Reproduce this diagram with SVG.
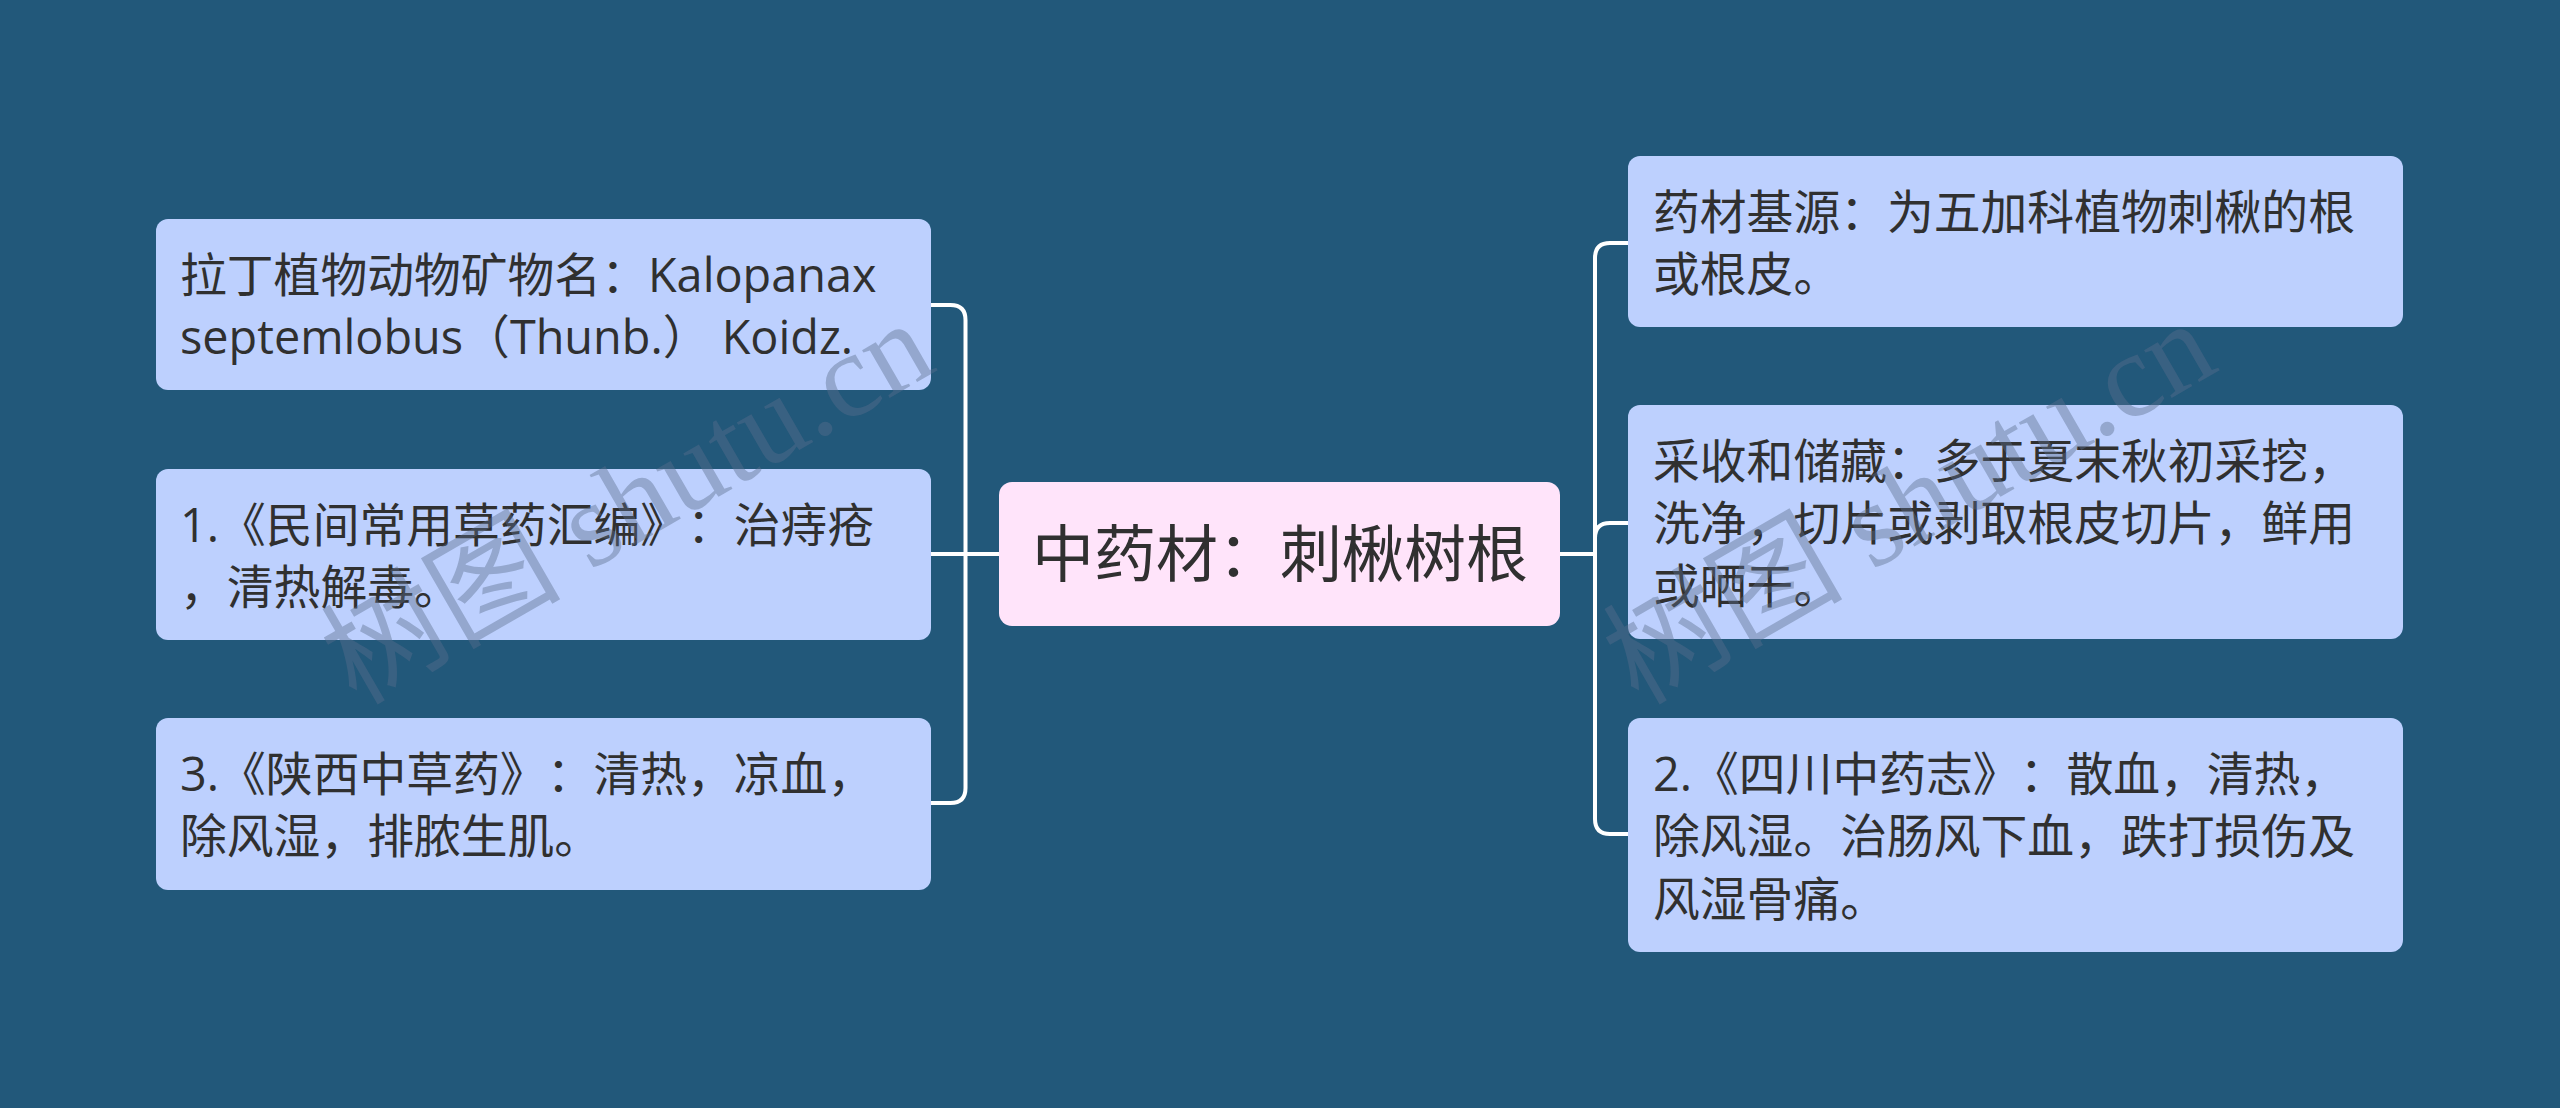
<svg xmlns="http://www.w3.org/2000/svg" width="2560" height="1108" viewBox="0 0 2560 1108">
<style>
.bg{fill:#22587A}
.node rect{fill:#BDD0FE}
.root rect{fill:#FFE4FA}
text{text-spacing-trim:space-all;font-kerning:none}
.t{font-family:"Open Sans","Noto Sans CJK SC",sans-serif;font-size:46.8px;fill:#303030}
.rt{font-family:"Open Sans","Noto Sans CJK SC",sans-serif;font-size:62px;fill:#303030}
.conn path{fill:none;stroke:#FFFFFF;stroke-width:4;stroke-linecap:round;stroke-linejoin:round}
.wm{font-family:"Liberation Serif","Noto Sans CJK SC",serif;font-size:120px;fill:#5A6E8C;fill-opacity:0.42}
</style>
<rect class="bg" x="0" y="0" width="2560" height="1108"/>
<g id="connectors" class="conn">
<path d="M999,554 H931"/>
<path d="M999,554 H965.5 V320 Q965.5,305 950.5,305 H931"/>
<path d="M999,554 H965.5 V788 Q965.5,803 950.5,803 H931"/>
<path d="M1560,554 H1595 V258 Q1595,243 1610,243 H1628"/>
<path d="M1560,554 H1595 V538 Q1595,523 1610,523 H1628"/>
<path d="M1560,554 H1595 V819 Q1595,834 1610,834 H1628"/>
</g>
<g id="root" class="root">
<rect x="999" y="482" width="561" height="144" rx="13"/>
<text class="rt" x="1280" y="577" text-anchor="middle">中药材：刺楸树根</text>
</g>
<g id="node-latin" class="node">
<rect x="156" y="219" width="775" height="171" rx="12"/>
<text class="t" x="180" y="291.5">拉丁植物动物矿物名：Kalopanax</text>
<text class="t" x="180" y="354">septemlobus（Thunb.） Koidz.</text>
</g>
<g id="node-minjian" class="node">
<rect x="156" y="469" width="775" height="171" rx="12"/>
<text class="t" x="180" y="541.5">1.《民间常用草药汇编》：治痔疮</text>
<text class="t" x="180" y="604">，清热解毒。</text>
</g>
<g id="node-shaanxi" class="node">
<rect x="156" y="718" width="775" height="172" rx="12"/>
<text class="t" x="180" y="790.5">3.《陕西中草药》：清热，凉血，</text>
<text class="t" x="180" y="853">除风湿，排脓生肌。</text>
</g>
<g id="node-source" class="node">
<rect x="1628" y="156" width="775" height="171" rx="12"/>
<text class="t" x="1653" y="228.5">药材基源：为五加科植物刺楸的根</text>
<text class="t" x="1653" y="291">或根皮。</text>
</g>
<g id="node-harvest" class="node">
<rect x="1628" y="405" width="775" height="234" rx="12"/>
<text class="t" x="1653" y="477.5">采收和储藏：多于夏末秋初采挖，</text>
<text class="t" x="1653" y="540">洗净，切片或剥取根皮切片，鲜用</text>
<text class="t" x="1653" y="602.5">或晒干。</text>
</g>
<g id="node-sichuan" class="node">
<rect x="1628" y="718" width="775" height="234" rx="12"/>
<text class="t" x="1653" y="790.5">2.《四川中药志》：散血，清热，</text>
<text class="t" x="1653" y="853">除风湿。治肠风下血，跌打损伤及</text>
<text class="t" x="1653" y="915.5">风湿骨痛。</text>
</g>
<g id="watermark">
<text class="wm" transform="translate(356,706) rotate(-30)">树图 shutu.cn</text>
<text class="wm" transform="translate(1638,706) rotate(-30)">树图 shutu.cn</text>
</g>
</svg>
